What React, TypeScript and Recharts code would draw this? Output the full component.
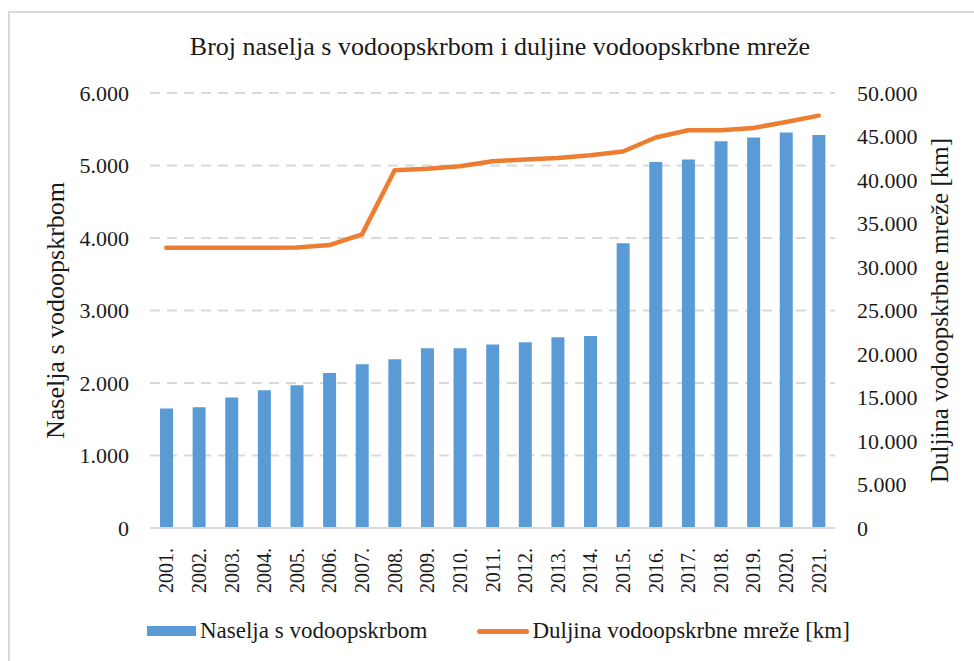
import {
  ComposedChart,
  Bar,
  Line,
  XAxis,
  YAxis,
  CartesianGrid,
  Legend,
} from 'recharts'

// Godine (kategorije)
const years = [
  '2001.', '2002.', '2003.', '2004.', '2005.', '2006.', '2007.',
  '2008.', '2009.', '2010.', '2011.', '2012.', '2013.', '2014.',
  '2015.', '2016.', '2017.', '2018.', '2019.', '2020.', '2021.',
]

// Naselja s vodoopskrbom (lijeva os)
const settlements = [
  1647, 1667, 1799, 1901, 1970, 2139, 2259,
  2328, 2479, 2479, 2532, 2562, 2631, 2649,
  3926, 5050, 5083, 5335, 5386, 5455, 5422,
]

// Duljina vodoopskrbne mreže [km] (desna os)
const networkKm = [
  32210, 32210, 32210, 32220, 32250, 32520, 33750,
  41130, 41280, 41590, 42160, 42350, 42540, 42850,
  43270, 44880, 45720, 45720, 45980, 46670, 47400,
]

const leftTicks = [0, 1000, 2000, 3000, 4000, 5000, 6000]
const rightTicks = [0, 5000, 10000, 15000, 20000, 25000, 30000, 35000, 40000, 45000, 50000]

const TITLE = 'Broj naselja s vodoopskrbom i duljine vodoopskrbne mreže'
const LEFT_LABEL = 'Naselja s vodoopskrbom'
const RIGHT_LABEL = 'Duljina vodoopskrbne mreže [km]'

const FONT = "'Liberation Serif', 'Times New Roman', serif"
const TEXT = '#1a1a1a'
const BLUE = '#5B9BD5'
const ORANGE = '#ED7D31'
const GRID = '#D9D9D9'

const data = years.map((year, i) => ({
  year,
  naselja: settlements[i],
  duljina: networkKm[i],
}))

// 6000 -> "6.000"
const formatThousands = (v: number): string =>
  String(v).replace(/\B(?=(\d{3})+(?!\d))/g, '.')

// Rotated year labels, reading bottom to top
function YearTick({ x, y, payload }: any) {
  return (
    <text
      x={x}
      y={y}
      dy="0.35em"
      transform={`rotate(-90, ${x}, ${y})`}
      textAnchor="end"
      fill={TEXT}
      fontSize={20}
      fontFamily={FONT}
    >
      {payload.value}
    </text>
  )
}

function LegendContent({ payload }: any) {
  if (!payload?.length) return null
  // bars first, then the line (as in the original)
  const items = [...payload].sort(
    (a: any, b: any) => (a.type === 'line' ? 1 : 0) - (b.type === 'line' ? 1 : 0)
  )
  return (
    <div
      style={{
        display: 'flex',
        alignItems: 'center',
        height: 30,
        fontFamily: FONT,
        fontSize: 23,
        color: TEXT,
        whiteSpace: 'nowrap',
      }}
    >
      {items.map((entry: any, index: number) => (
        <div
          key={index}
          style={{ display: 'flex', alignItems: 'center', marginRight: index === 0 ? 50 : 0 }}
        >
          {entry.type === 'line' ? (
            <span
              style={{
                display: 'inline-block',
                width: 52,
                height: 5,
                borderRadius: 3,
                background: entry.color,
                marginRight: 3,
              }}
            />
          ) : (
            <span
              style={{
                display: 'inline-block',
                width: 49,
                height: 10,
                background: entry.color,
                marginRight: 4,
              }}
            />
          )}
          <span>{entry.value}</span>
        </div>
      ))}
    </div>
  )
}

export default function App() {
  return (
    <>
      <style>
        {`html, body { margin: 0; overflow: hidden; background: #fff; }
.chart-box, .chart-box text, .chart-box .recharts-legend-wrapper * { font-family: ${FONT} !important; }`}
      </style>
      <div
        className="chart-box"
        style={{
          position: 'absolute',
          left: 8,
          top: 11,
          width: 966,
          height: 650,
          borderTop: `2px solid ${GRID}`,
          borderLeft: `2px solid ${GRID}`,
          background: '#fff',
          fontFamily: FONT,
        }}
      >
        {/* Title */}
        <div
          style={{
            position: 'absolute',
            left: 8,
            width: 964,
            top: 19,
            lineHeight: '30px',
            textAlign: 'center',
            fontSize: 26,
            color: TEXT,
            whiteSpace: 'nowrap',
          }}
        >
          {TITLE}
        </div>

        <ComposedChart
          width={964}
          height={648}
          data={data}
          margin={{ top: 80, right: 0, bottom: 0, left: 0 }}
          barCategoryGap={0}
        >
          <CartesianGrid
            yAxisId="left"
            vertical={false}
            stroke={GRID}
            strokeWidth={2}
            strokeDasharray="10 7"
          />

          <XAxis
            dataKey="year"
            interval={0}
            height={133}
            tickSize={0}
            tickMargin={20}
            tickLine={false}
            axisLine={{ stroke: GRID, strokeWidth: 2 }}
            tick={<YearTick />}
          />

          <YAxis
            yAxisId="left"
            orientation="left"
            width={140}
            domain={[0, 6000]}
            ticks={leftTicks}
            tickFormatter={formatThousands}
            axisLine={false}
            tickLine={false}
            tickSize={0}
            tickMargin={21}
            tick={{ fill: TEXT, fontSize: 22 }}
            label={{
              value: LEFT_LABEL,
              angle: -90,
              position: 'center',
              dx: -25,
              fill: TEXT,
              fontSize: 26,
            }}
          />

          <YAxis
            yAxisId="right"
            orientation="right"
            width={139}
            domain={[0, 50000]}
            ticks={rightTicks}
            tickFormatter={formatThousands}
            axisLine={false}
            tickLine={false}
            tickSize={0}
            tickMargin={22}
            tick={{ fill: TEXT, fontSize: 22 }}
            label={{
              value: RIGHT_LABEL,
              angle: -90,
              position: 'center',
              dx: 35,
              fill: TEXT,
              fontSize: 25,
            }}
          />

          <Legend
            verticalAlign="middle"
            align="center"
            layout="horizontal"
            content={<LegendContent />}
            wrapperStyle={{ top: 603, left: 137, width: 760, height: 30 }}
          />

          <Bar
            yAxisId="left"
            dataKey="naselja"
            name={LEFT_LABEL}
            fill={BLUE}
            barSize={13}
            isAnimationActive={false}
          />
          <Line
            yAxisId="right"
            type="linear"
            dataKey="duljina"
            name={RIGHT_LABEL}
            stroke={ORANGE}
            strokeWidth={4.5}
            strokeLinecap="round"
            strokeLinejoin="round"
            dot={false}
            activeDot={false}
            isAnimationActive={false}
          />
        </ComposedChart>
      </div>
    </>
  )
}
